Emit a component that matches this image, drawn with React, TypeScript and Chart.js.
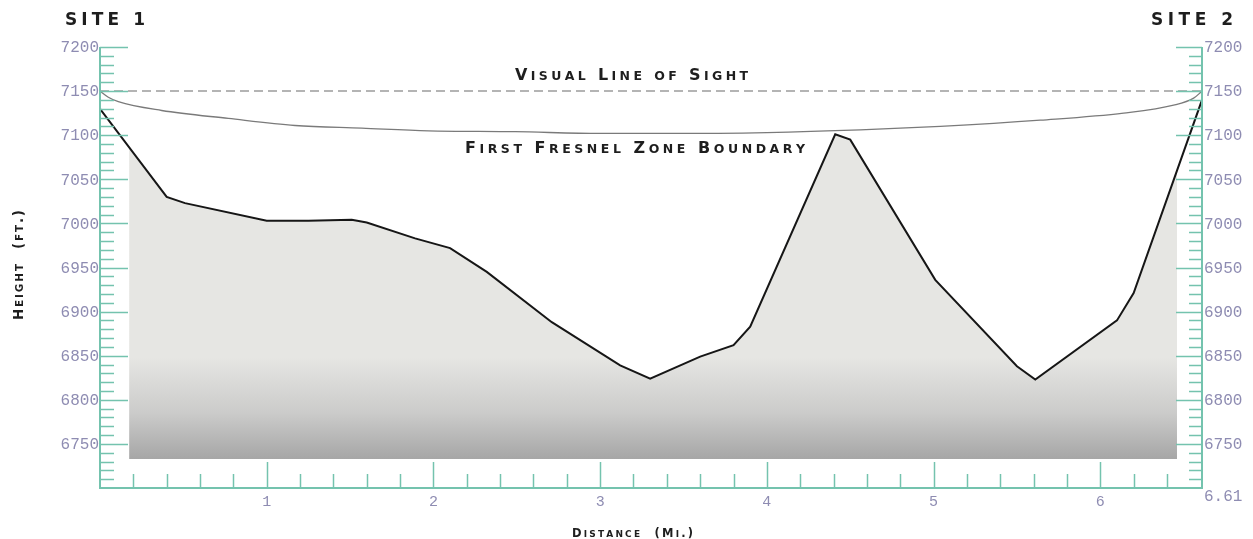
import React, { useEffect, useRef } from 'react';
import { Chart, registerables } from 'chart.js';

Chart.register(...registerables);

// ---- data ----
const terrainMiles = [0, 0.40, 0.51, 1.0, 1.25, 1.51, 1.60, 1.89, 2.10, 2.32, 2.71, 3.12, 3.30, 3.60, 3.80, 3.90, 4.41, 4.50, 5.01, 5.50, 5.61, 6.10, 6.20, 6.61];
const terrainFeet = [7130, 7030, 7023, 7003, 7003, 7004, 7001, 6983, 6972, 6945, 6888, 6839, 6824, 6849, 6862, 6883, 7101, 7095, 6936, 6838, 6823, 6890, 6921, 7140];

const fresnelMiles = [0, 0.05, 0.11, 0.37, 0.77, 1.17, 1.57, 1.97, 2.49, 3.0, 3.40, 4.0, 4.56, 5.04, 5.64, 6.14, 6.44, 6.56, 6.61];
const fresnelFeet = [7150, 7143, 7138, 7128, 7119, 7111, 7108, 7105, 7104, 7102, 7102, 7103, 7106, 7110, 7117, 7125, 7134, 7142, 7150];

const sightMiles = [0, 6.61];
const sightFeet = [7150, 7150];

const yTickValues = [7200, 7150, 7100, 7050, 7000, 6950, 6900, 6850, 6800, 6750];
const yTickLabels = ['7200', '7150', '7100', '7050', '7000', '6950', '6900', '6850', '6800', '6750'];
const xTickValues = [1, 2, 3, 4, 5, 6];
const xTickLabels = ['1', '2', '3', '4', '5', '6'];
const xEndLabel = '6.61';

const X_MIN = 0;
const X_MAX = 6.61;
const Y_MIN = 6700;
const Y_MAX = 7200;
const FILL_BASE = 6733;
const FILL_FROM = 0.175;
const FILL_TO = 6.46;

const AXIS_COLOR = '#74c3ae';
const LABEL_COLOR = '#8e8cb2';
const TITLE_COLOR = '#1e1e1e';

function toPts(xs: number[], ys: number[]) {
  return xs.map((x, i) => ({ x, y: ys[i] }));
}

function drawSmallCaps(
  ctx: CanvasRenderingContext2D,
  text: string,
  left: number,
  baseline: number,
  big: number,
  small: number,
  width: number,
  weight = 'bold'
) {
  const chars = text.split('');
  const items = chars.map((ch) => {
    const isLower = ch !== ch.toUpperCase();
    const size = isLower ? small : big;
    ctx.font = `${weight} ${size}px "DejaVu Sans", sans-serif`;
    const c = ch.toUpperCase();
    return { c, size, w: ctx.measureText(c).width };
  });
  const natural = items.reduce((s, it) => s + it.w, 0);
  const gap = chars.length > 1 ? (width - natural) / (chars.length - 1) : 0;
  let x = left;
  ctx.textAlign = 'left';
  ctx.textBaseline = 'alphabetic';
  ctx.fillStyle = TITLE_COLOR;
  for (const it of items) {
    ctx.font = `${weight} ${it.size}px "DejaVu Sans", sans-serif`;
    ctx.fillText(it.c, x, baseline);
    x += it.w + gap;
  }
}

const clipPlugin = {
  id: 'terrainClip',
  beforeDatasetsDraw(chart: any) {
    const { ctx, scales, chartArea } = chart;
    const l = scales.x.getPixelForValue(FILL_FROM);
    const r = scales.x.getPixelForValue(FILL_TO);
    const b = scales.y.getPixelForValue(FILL_BASE);
    ctx.save();
    ctx.beginPath();
    ctx.rect(l, chartArea.top - 5, r - l, b - chartArea.top + 5);
    ctx.clip();
  },
  afterDatasetDraw(chart: any, args: any) {
    if (args.index === 0) chart.ctx.restore();
  },
};

const axesPlugin = {
  id: 'customAxes',
  afterDraw(chart: any) {
    const { ctx, scales, chartArea } = chart;
    const xs = scales.x;
    const ys = scales.y;
    const L = chartArea.left;
    const R = chartArea.right;
    const T = chartArea.top;
    const B = chartArea.bottom;
    ctx.save();
    ctx.strokeStyle = AXIS_COLOR;
    // axis lines
    ctx.lineWidth = 2;
    ctx.beginPath();
    ctx.moveTo(L, T);
    ctx.lineTo(L, B);
    ctx.lineTo(R, B);
    ctx.lineTo(R, T);
    ctx.stroke();
    // y ticks
    ctx.lineWidth = 1.5;
    for (let v = Y_MIN + 10; v <= Y_MAX; v += 10) {
      const major = v % 50 === 0;
      const py = Math.round(ys.getPixelForValue(v)) + 0.5;
      const len = major ? 28 : 14;
      ctx.beginPath();
      ctx.moveTo(L, py);
      ctx.lineTo(L + len, py);
      ctx.moveTo(R, py);
      ctx.lineTo(R - (major ? 26 : 13), py);
      ctx.stroke();
    }
    // x ticks
    for (let k = 1; k <= 32; k++) {
      const v = k * 0.2;
      const major = k % 5 === 0;
      const px = Math.round(xs.getPixelForValue(v)) + 0.5;
      ctx.beginPath();
      ctx.moveTo(px, B);
      ctx.lineTo(px, B - (major ? 26 : 14));
      ctx.stroke();
    }
    // tick labels
    ctx.fillStyle = LABEL_COLOR;
    ctx.font = '16px "Liberation Mono", monospace';
    ctx.textBaseline = 'middle';
    yTickValues.forEach((v, i) => {
      const py = ys.getPixelForValue(v) + 1;
      ctx.textAlign = 'right';
      ctx.fillText(yTickLabels[i], L - 1, py);
      ctx.textAlign = 'left';
      ctx.fillText(yTickLabels[i], R + 2, py);
    });
    ctx.textAlign = 'left';
    ctx.fillText(xEndLabel, R + 2, B + 9);
    ctx.textAlign = 'center';
    ctx.font = '15px "Liberation Mono", monospace';
    xTickValues.forEach((v, i) => {
      ctx.fillText(xTickLabels[i], xs.getPixelForValue(v), B + 14);
    });
    ctx.restore();

    // titles
    ctx.save();
    drawSmallCaps(ctx, 'SITE 1', 65, 25, 17, 17, 80);
    drawSmallCaps(ctx, 'SITE 2', 1151, 25, 17, 17, 82);
    drawSmallCaps(ctx, 'Visual Line of Sight', 515, 80, 16, 12.5, 233);
    drawSmallCaps(ctx, 'First Fresnel Zone Boundary', 465, 153, 16, 12.5, 340);
    drawSmallCaps(ctx, 'Distance  (Mi.)', 572, 537, 11.5, 9, 121);
    ctx.translate(23, 320);
    ctx.rotate(-Math.PI / 2);
    drawSmallCaps(ctx, 'Height  (ft.)', 0, 0, 13.5, 10.5, 110);
    ctx.restore();
  },
};

export default function App() {
  const ref = useRef<HTMLCanvasElement | null>(null);
  useEffect(() => {
    if (!ref.current) return;
    const chart = new Chart(ref.current, {
      type: 'line',
      data: {
        datasets: [
          {
            label: 'terrain fill',
            data: toPts(terrainMiles, terrainFeet),
            borderWidth: 0,
            pointRadius: 0,
            fill: { value: FILL_BASE },
            order: 10,
            backgroundColor: (c: any) => {
              const ch = c.chart;
              if (!ch.chartArea) return '#e6e6e3';
              const y0 = ch.scales.y.getPixelForValue(FILL_BASE);
              const y1 = ch.scales.y.getPixelForValue(6848);
              const g = ch.ctx.createLinearGradient(0, y0, 0, y1);
              g.addColorStop(0, '#a6a6a6');
              g.addColorStop(0.45, '#cbcbca');
              g.addColorStop(1, '#e6e6e3');
              return g;
            },
          } as any,
          {
            label: 'Visual Line of Sight',
            data: toPts(sightMiles, sightFeet),
            borderColor: '#9c9c9c',
            borderWidth: 1.5,
            borderDash: [9, 5],
            pointRadius: 0,
            fill: false,
            order: 3,
          },
          {
            label: 'First Fresnel Zone Boundary',
            data: toPts(fresnelMiles, fresnelFeet),
            borderColor: '#7a7a7a',
            borderWidth: 1.3,
            pointRadius: 0,
            cubicInterpolationMode: 'monotone',
            fill: false,
            order: 2,
          },
          {
            label: 'Terrain',
            data: toPts(terrainMiles, terrainFeet),
            borderColor: '#161616',
            borderWidth: 2,
            pointRadius: 0,
            tension: 0,
            fill: false,
            order: 1,
          },
        ],
      },
      options: {
        animation: false,
        responsive: false,
        devicePixelRatio: 1,
        layout: { padding: { left: 100, right: 51, top: 47, bottom: 51 } },
        plugins: { legend: { display: false }, tooltip: { enabled: false }, title: { display: false } },
        scales: {
          x: { type: 'linear', min: X_MIN, max: X_MAX, display: false },
          y: { type: 'linear', min: Y_MIN, max: Y_MAX, display: false },
        },
      },
      plugins: [clipPlugin, axesPlugin],
    });
    return () => chart.destroy();
  }, []);
  return (
    <div style={{ position: 'fixed', left: 0, top: 0, width: 1253, height: 539, background: '#fff' }}>
      <canvas ref={ref} width={1253} height={539} style={{ display: 'block' }} />
    </div>
  );
}
